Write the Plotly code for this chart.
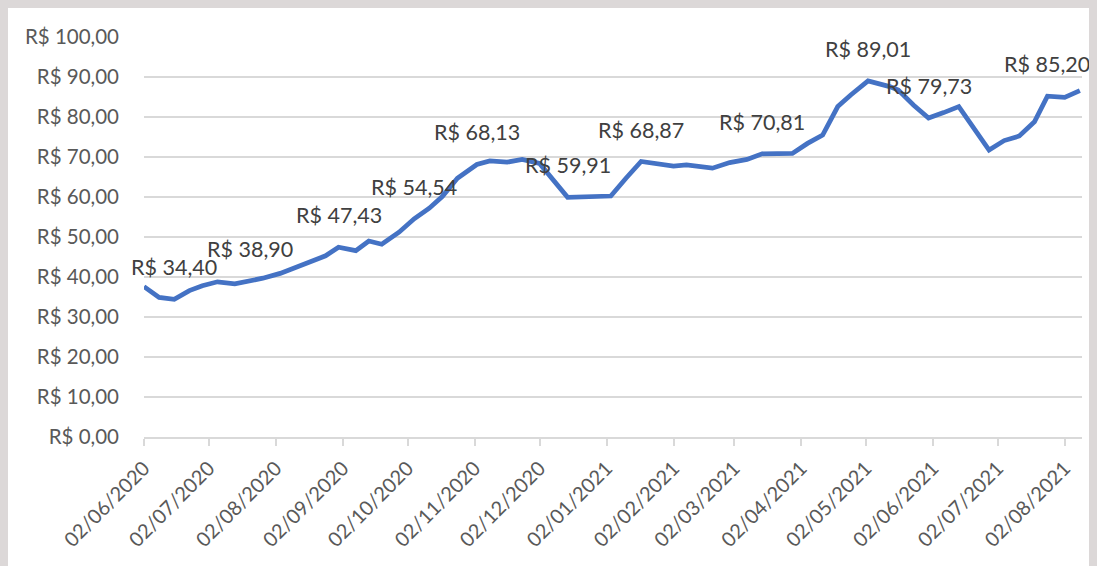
import plotly.graph_objects as go

# Weekly prices (R$)
dates = [
    "2020-06-02", "2020-06-09", "2020-06-16", "2020-06-23", "2020-06-29", "2020-07-06",
    "2020-07-14", "2020-07-21", "2020-07-27", "2020-08-04", "2020-08-12", "2020-08-18",
    "2020-08-25", "2020-08-31", "2020-09-08", "2020-09-14", "2020-09-20", "2020-09-28",
    "2020-10-05", "2020-10-12", "2020-10-18", "2020-10-25", "2020-11-03", "2020-11-09",
    "2020-11-17", "2020-11-24", "2020-12-02", "2020-12-15", "2021-01-04", "2021-01-11",
    "2021-01-18", "2021-02-02", "2021-02-08", "2021-02-20", "2021-02-28", "2021-03-08",
    "2021-03-15", "2021-03-29", "2021-04-05", "2021-04-12", "2021-04-19", "2021-04-25",
    "2021-05-03", "2021-05-13", "2021-05-17", "2021-05-24", "2021-05-31", "2021-06-07",
    "2021-06-14", "2021-06-28", "2021-07-05", "2021-07-12", "2021-07-19", "2021-07-25",
    "2021-08-02", "2021-08-09",
]
prices = [
    37.6, 34.9, 34.40, 36.6, 37.8, 38.8,
    38.3, 38.90, 39.7, 40.9, 42.6, 44.1,
    45.3, 47.43, 46.6, 49.0, 48.2, 51.2,
    54.54, 57.2, 60.1, 64.7, 68.13, 69.0,
    68.7, 69.4, 68.4, 59.91, 60.25, 64.7,
    68.87, 67.75, 68.0, 67.2, 68.6, 69.4,
    70.81, 70.9, 73.4, 75.5, 82.6, 85.5,
    89.01, 87.6, 86.75, 83.0, 79.73, 81.1,
    82.6, 71.75, 74.1, 75.25, 78.8, 85.20,
    84.9, 86.6,
]
# Points that carry a data label
label_idx = [2, 7, 13, 18, 22, 27, 30, 36, 42, 46, 53]

y_ticks = list(range(0, 101, 10))
y_tick_text = ["R$ %d,00" % v for v in y_ticks]


def brl(v):
    return "R$ " + ("%.2f" % v).replace(".", ",")


FONT = "Lato"
# page body has an 8px margin; figure sits at (8, 8)
W, H = 1089, 558
L, R, T, B = 136, 15, 29, 129

fig = go.Figure()
fig.add_trace(go.Scatter(
    x=dates, y=prices, mode="lines",
    line=dict(color="#4472C4", width=4.75),
    hoverinfo="skip", showlegend=False,
))

annotations = []
for i in label_idx:
    annotations.append(dict(
        x=dates[i], y=prices[i], text=brl(prices[i]),
        showarrow=False, yshift=32, xanchor="center", yanchor="middle",
        font=dict(family=FONT, size=21.5, color="#404040"),
    ))

fig.update_layout(
    width=W, height=H,
    margin=dict(l=L, r=R, t=T, b=B, pad=0),
    paper_bgcolor="white",
    plot_bgcolor="white",
    showlegend=False,
    annotations=annotations,
    font=dict(family=FONT, color="#595959"),
)
fig.update_xaxes(
    type="date",
    range=["2020-06-02", "2021-08-10"],
    tick0="2020-06-02", dtick="M1", tickformat="%d/%m/%Y",
    tickangle=-45,
    tickfont=dict(family=FONT, size=20, color="#595959"),
    showgrid=False, zeroline=False,
    showline=True, linecolor="#D9D9D9", linewidth=1.5,
    ticks="outside", ticklen=7, tickcolor="#D9D9D9", tickwidth=1.5,
    ticklabelstandoff=3,
)
fig.update_yaxes(
    range=[0, 100],
    tickvals=y_ticks, ticktext=y_tick_text,
    tickfont=dict(family=FONT, size=20.5, color="#595959"),
    showgrid=True, gridcolor="#D9D9D9", gridwidth=1.5,
    zeroline=False, showline=False,
    ticklabelstandoff=24,
)

fig.write_html(
    "out.html",
    post_script="document.body.style.background='#dcd8d8';"
                "document.body.style.overflow='hidden';",
)
